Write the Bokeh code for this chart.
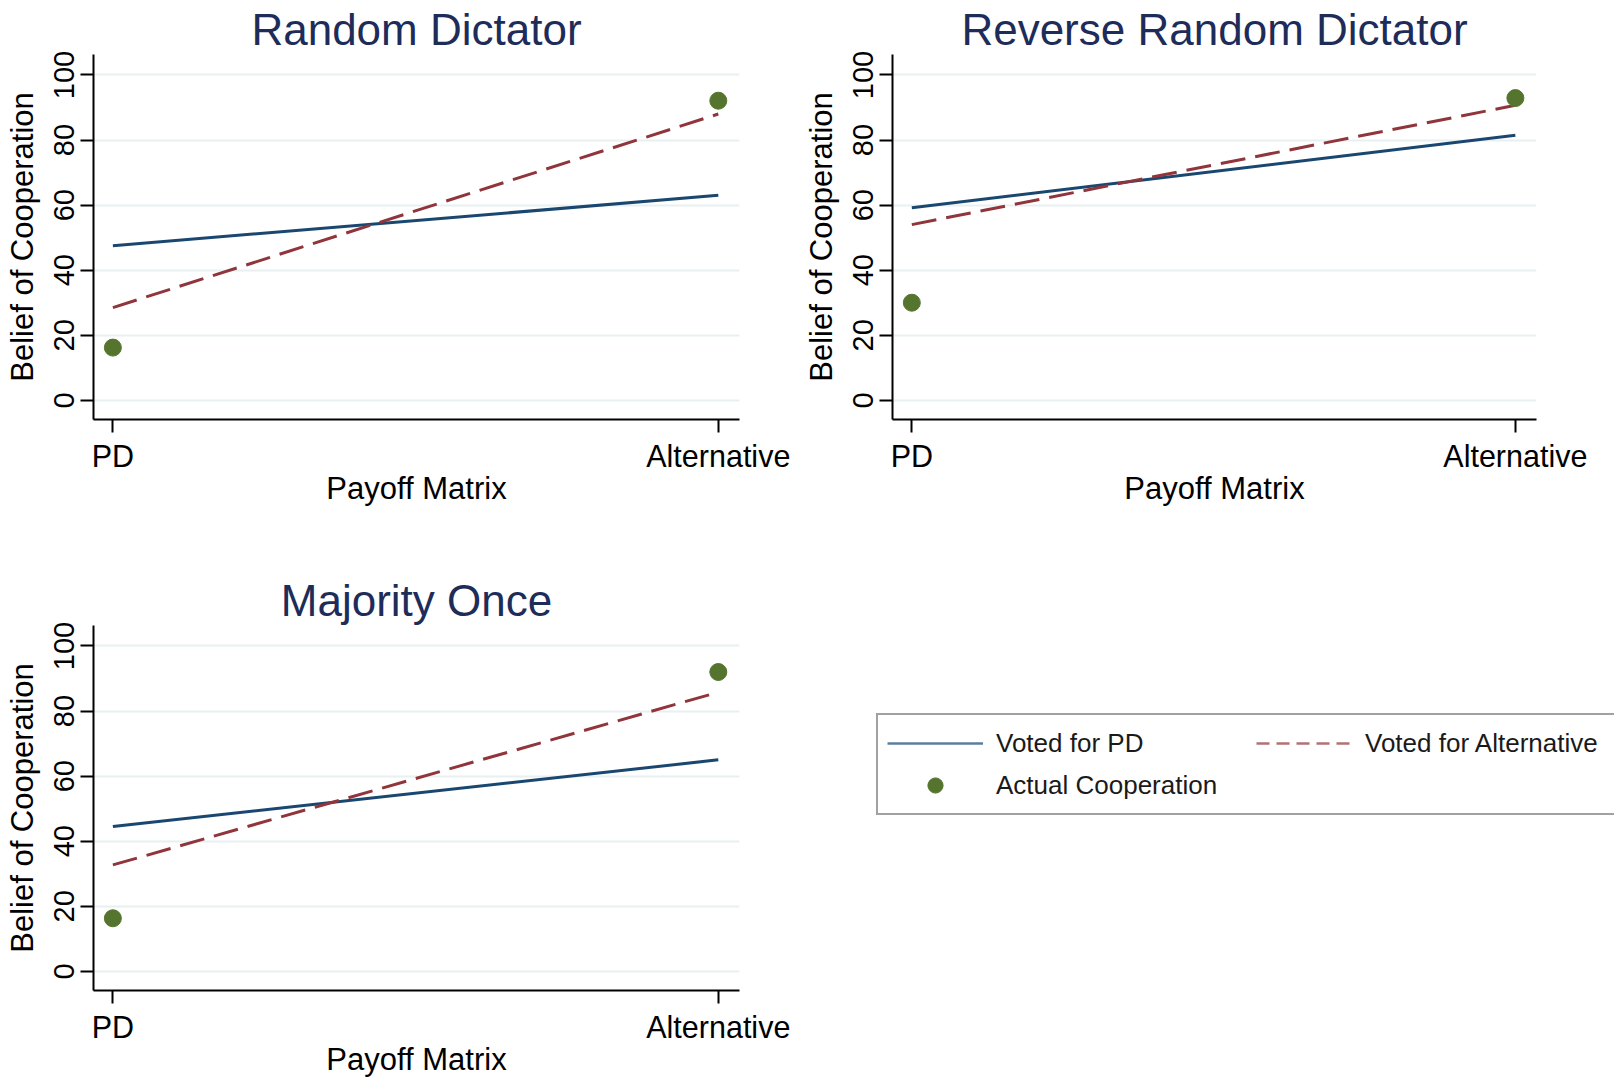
from bokeh.plotting import figure
from bokeh.layouts import column, row
from bokeh.models import FixedTicker, Range1d, Legend, LegendItem
from bokeh.embed import file_html
from bokeh.resources import INLINE

# ---------------- data ----------------
categories = ["PD", "Alternative"]
cat_pos = [0, 1]
y_ticks = [0, 20, 40, 60, 80, 100]

panel_titles = ["Random Dictator", "Reverse Random Dictator", "Majority Once"]

rd_voted_pd = [47.5, 63.0]
rd_voted_alt = [28.5, 88.0]
rd_actual = [16.2, 92.1]

rrd_voted_pd = [59.2, 81.5]
rrd_voted_alt = [54.0, 90.7]
rrd_actual = [30.0, 92.9]

mo_voted_pd = [44.5, 65.0]
mo_voted_alt = [32.7, 85.8]
mo_actual = [16.3, 92.0]

legend_labels = ["Voted for PD", "Voted for Alternative", "Actual Cooperation"]

# ---------------- style ----------------
FONT = "Liberation Sans"
NAVY = "#1a476f"
MAROON = "#90353b"
GREEN = "#55752f"
TITLE_C = "#1e2c5a"
GRID_C = "#e8f0f1"


def panel(title, vpd, valt, act, width, height, mbl, mbr, mbt, mbb):
    p = figure(width=width, height=height,
               x_range=Range1d(-0.032, 1.035), y_range=Range1d(-5.9, 106.3),
               output_backend="svg", toolbar_location=None,
               min_border_left=mbl, min_border_right=mbr,
               min_border_top=mbt, min_border_bottom=mbb)
    p.title.text = title
    p.title.align = "center"
    p.title.text_font = FONT
    p.title.text_font_size = "44px"
    p.title.text_font_style = "normal"
    p.title.text_color = TITLE_C
    p.title.standoff = 1
    p.outline_line_color = None
    p.background_fill_color = "white"
    p.border_fill_color = "white"

    p.xgrid.visible = False
    p.ygrid.grid_line_color = GRID_C
    p.ygrid.grid_line_width = 2

    for ax in (p.xaxis[0], p.yaxis[0]):
        ax.axis_line_width = 2
        ax.axis_line_color = "black"
        ax.major_tick_line_width = 2
        ax.major_tick_line_color = "black"
        ax.major_tick_out = 13
        ax.major_tick_in = 0
        ax.minor_tick_line_color = None
        ax.major_label_text_font = FONT
        ax.major_label_text_color = "black"
        ax.axis_label_text_font = FONT
        ax.axis_label_text_font_style = "normal"
        ax.axis_label_text_color = "black"
        ax.axis_label_text_font_size = "31px"

    xa = p.xaxis[0]
    xa.ticker = FixedTicker(ticks=cat_pos)
    xa.major_label_overrides = {k: v for k, v in zip(cat_pos, categories)}
    xa.major_label_text_font_size = "30.5px"
    xa.major_label_standoff = 6
    xa.axis_label = "Payoff Matrix"
    xa.axis_label_standoff = -5

    ya = p.yaxis[0]
    ya.ticker = FixedTicker(ticks=y_ticks)
    ya.major_label_orientation = "vertical"
    ya.major_label_text_font_size = "29px"
    ya.major_label_standoff = 6
    ya.axis_label = "Belief of Cooperation"
    ya.axis_label_standoff = 12

    p.line(cat_pos, vpd, line_color=NAVY, line_width=3)
    p.line(cat_pos, valt, line_color=MAROON, line_width=3, line_dash="25 10")
    p.scatter(cat_pos, act, size=17, fill_color=GREEN, line_color=GREEN)
    return p


p1 = panel(panel_titles[0], rd_voted_pd, rd_voted_alt, rd_actual,
           790, 571, 93, 51, 54, 152)
p2 = panel(panel_titles[1], rrd_voted_pd, rrd_voted_alt, rrd_actual,
           824, 571, 102, 78, 54, 152)
p3 = panel(panel_titles[2], mo_voted_pd, mo_voted_alt, mo_actual,
           800, 510, 93, 61, 54, 91)

# ---------------- legend panel ----------------
leg = figure(width=814, height=510, x_range=Range1d(0, 1), y_range=Range1d(0, 1),
             output_backend="svg", toolbar_location=None,
             x_axis_location=None, y_axis_location=None,
             min_border_left=0, min_border_right=0, min_border_top=0, min_border_bottom=0)
leg.outline_line_color = None
leg.xgrid.visible = False
leg.ygrid.visible = False

# legend-only renderers (kept outside the visible range)
r_pd = leg.line([5, 6], [5, 6], line_color=NAVY, line_width=2.5, line_alpha=0.7)
r_alt = leg.line([5, 6], [5, 6], line_color=MAROON, line_width=2.5, line_alpha=0.7,
                 line_dash="13 7")
r_act = leg.scatter([5], [5], fill_color=GREEN, line_color=GREEN)

legend = Legend(items=[LegendItem(label=legend_labels[0], renderers=[r_pd]),
                       LegendItem(label=legend_labels[2], renderers=[r_act]),
                       LegendItem(label=legend_labels[1], renderers=[r_alt])],
                orientation="vertical", ncols=2,
                location=(76, 175))
legend.label_text_font = FONT
legend.label_text_font_size = "26px"
legend.label_text_color = "#1a1a1a"
legend.glyph_width = 96
legend.glyph_height = 38
legend.label_standoff = 13
legend.label_width = 256
legend.label_height = 38
legend.spacing = 4
legend.padding = 9
legend.margin = 0
legend.border_line_color = "#444444"
legend.border_line_width = 2
legend.background_fill_color = "white"
leg.add_layout(legend, "center")

layout = column(row(p1, p2), row(p3, leg))

open("out.html", "w").write(file_html(layout, INLINE))
